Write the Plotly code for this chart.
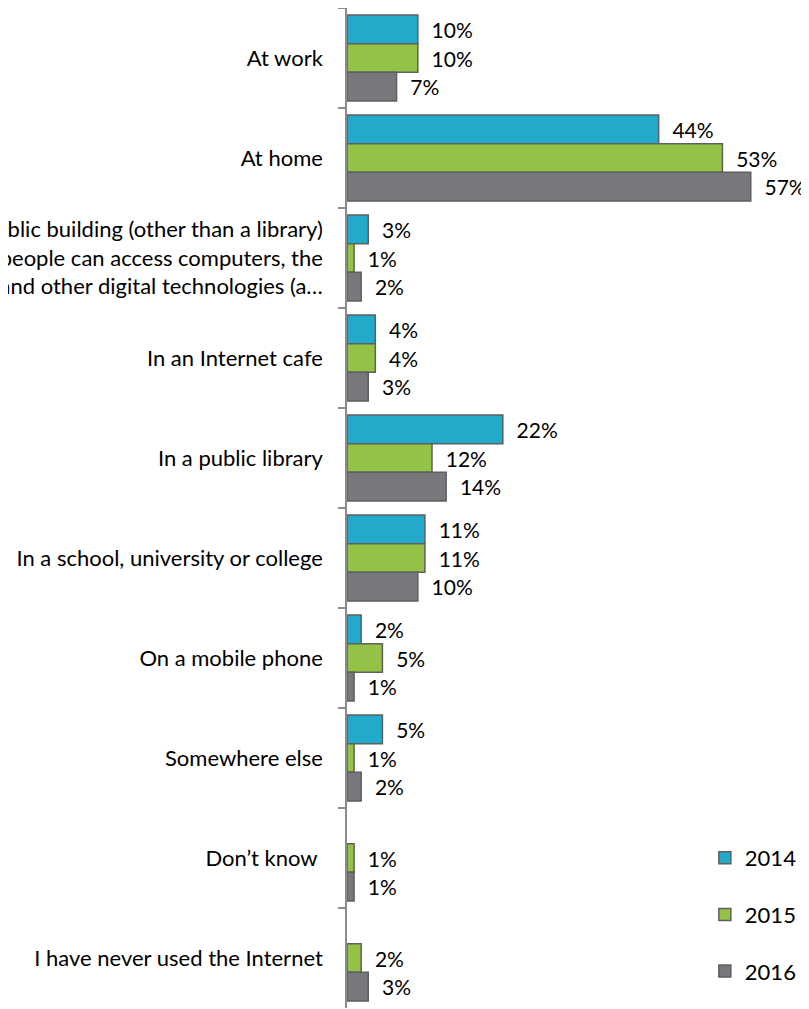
import plotly.graph_objects as go

categories = [
    "At work",
    "At home",
    "In a public building (other than a library)<br>where people can access computers, the<br>Internet, and other digital technologies (a…",
    "In an Internet cafe",
    "In a public library",
    "In a school, university or college",
    "On a mobile phone",
    "Somewhere else",
    "Don’t know\u00a0",
    "I have never used the Internet",
]
series_names = ["2014", "2015", "2016"]
values_2014 = [10, 44, 3, 4, 22, 11, 2, 5, None, None]
values_2015 = [10, 53, 1, 4, 12, 11, 5, 1, 1, 2]
values_2016 = [7, 57, 2, 3, 14, 10, 1, 2, 1, 3]
colors = ["#22AACB", "#93C247", "#76787C"]

FONT = "Lato"
FS = 22
FS_VAL = 21

fig = go.Figure()
for name, vals, col in zip(series_names, [values_2014, values_2015, values_2016], colors):
    fig.add_trace(go.Bar(
        name=name,
        y=categories,
        x=vals,
        orientation="h",
        marker=dict(color=col, line=dict(color="#5F5F5F", width=1.5)),
        text=[("\u00a0\u00a0%d%%" % v) if v is not None else "" for v in vals],
        textposition="outside",
        textfont=dict(family=FONT, size=FS_VAL, color="#000000"),
        cliponaxis=False,
        legendgroup=name,
    ))

fig.update_layout(
    width=801, height=1001,
    margin=dict(l=339, r=37, t=0, b=1, autoexpand=False),
    paper_bgcolor="white", plot_bgcolor="white",
    barmode="group", bargap=0.14, bargroupgap=0,
    font=dict(family=FONT, size=FS, color="#000000"),
    showlegend=True,
    legend=dict(x=0.842, y=0.171, xanchor="left", yanchor="top",
                font=dict(family=FONT, size=FS, color="#000000"),
                tracegroupgap=25, bgcolor="rgba(0,0,0,0)"),
)
fig.update_xaxes(range=[0, 60], visible=False, showgrid=False, zeroline=False, automargin=False)
fig.update_yaxes(
    autorange="reversed", showgrid=False, zeroline=False, automargin=False,
    showline=True, linecolor="#8C8C8C", linewidth=1.5,
    ticks="outside", tickson="boundaries", ticklen=7, tickcolor="#8C8C8C", tickwidth=1.5,
    ticklabelstandoff=18,
    tickfont=dict(family=FONT, size=FS, color="#000000"),
)

fig.write_html("out.html")
